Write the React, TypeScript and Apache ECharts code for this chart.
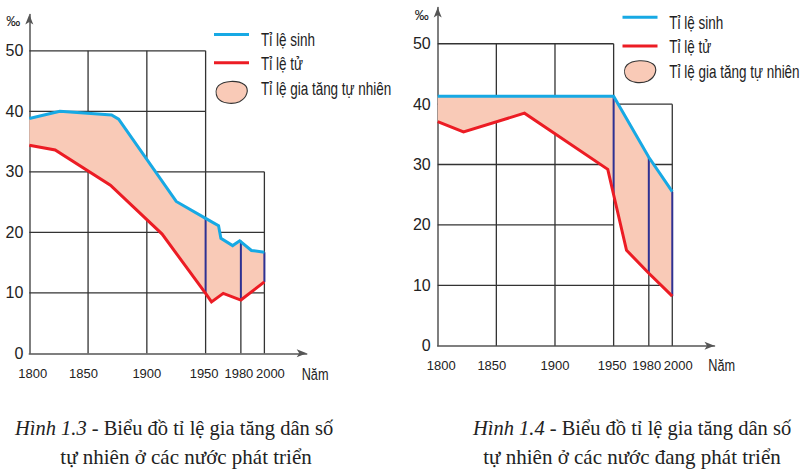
import React, { useEffect, useRef } from "react";
import * as echarts from "echarts";

// ---------- data ----------
// Hình 1.3 – developed countries
const devBirth: number[][] = [
  [1800, 38.8], [1826, 40.0], [1870, 39.4], [1876, 38.7], [1925, 25.1],
  [1950, 22.3], [1961, 21.1], [1963, 19.0], [1973, 17.8], [1979, 18.6],
  [1989, 17.0], [2000, 16.7],
];
const devDeath: number[][] = [
  [1800, 34.4], [1822, 33.6], [1869, 27.8], [1913, 19.7], [1950, 9.9],
  [1955, 8.5], [1965, 9.9], [1980, 8.8], [2000, 11.8],
];
// dividers: [year, lower, upper]
const devDividers: number[][] = [[1950, 9.9, 22.3], [1980, 8.8, 18.6], [2000, 11.8, 16.7]];
// grid segments [x1, y1, x2, y2]
const devGrid: number[][] = [
  [1800, 50, 1950, 50], [1800, 40, 1950, 40], [1800, 30, 2000, 30],
  [1800, 20, 2000, 20], [1800, 10, 2000, 10],
  [1850, 0, 1850, 50], [1900, 0, 1900, 50], [1950, 0, 1950, 50],
  [1980, 0, 1980, 18.6], [2000, 0, 2000, 30],
];

// Hình 1.4 – developing countries
const dvgBirth: number[][] = [[1800, 41.3], [1950, 41.3], [1980, 31.2], [2000, 25.5]];
const dvgDeath: number[][] = [
  [1800, 37.1], [1822, 35.4], [1874, 38.5], [1945, 29.2], [1950, 25.0],
  [1961, 15.8], [1980, 12.0], [2000, 8.2],
];
const dvgDividers: number[][] = [[1950, 25.0, 41.3], [1980, 12.0, 31.2], [2000, 8.2, 25.5]];
const dvgGrid: number[][] = [
  [1800, 50, 1950, 50], [1800, 40, 2000, 40], [1800, 30, 2000, 30],
  [1800, 20, 1950, 20], [1800, 10, 2000, 10],
  [1850, 0, 1850, 50], [1900, 0, 1900, 50], [1950, 0, 1950, 50],
  [1980, 0, 1980, 31.2], [2000, 0, 2000, 40],
];

const xTicks = [1800, 1850, 1900, 1950, 1980, 2000];
const yTicks = [0, 10, 20, 30, 40, 50];
const legendNames = ["Tỉ lệ sinh", "Tỉ lệ tử", "Tỉ lệ gia tăng tự nhiên"];
const captions = [
  ["{i|Hình 1.3} - Biểu đồ tỉ lệ gia tăng dân số", "tự nhiên ở các nước phát triển"],
  ["{i|Hình 1.4} - Biểu đồ tỉ lệ gia tăng dân số", "tự nhiên ở các nước đang phát triển"],
];

// ---------- styles ----------
const SANS = "'Liberation Sans', Arial, sans-serif";
const SERIF = "'Liberation Serif', 'Times New Roman', serif";
const BLUE = "#17a9e4";
const RED = "#ec1c24";
const FILL = "#f9cab7";
const NAVY = "#2e3192";
const GRIDC = "#333333";
const NARROW_SCALE = 0.77;
// horizontal nudges (px) of the year labels, as hand-placed in the source figure
const LABEL_NUDGE: Record<string, number> = { "1800": 3.5, "1850": -4.5, "1900": 0, "1950": -1.5, "1980": -2, "2000": 6 };

const BLOB_D = "M3,5 C8,0 22,-1 29,4 C34,8 32,17 24,21 C17,24 6,23 2,17 C0,13 0,8 3,5 Z";
try {
  echarts.graphic.registerShape("blob", echarts.graphic.extendPath(BLOB_D, {}) as any);
} catch (e) {
  /* ignore */
}

function gridSeries(idx: number, segs: number[][]) {
  return {
    type: "custom",
    xAxisIndex: idx,
    yAxisIndex: idx,
    silent: true,
    z: 1,
    data: segs,
    encode: { x: [0, 2], y: [1, 3] },
    renderItem: (_p: any, api: any) => {
      const a = api.coord([api.value(0), api.value(1)]);
      const b = api.coord([api.value(2), api.value(3)]);
      return {
        type: "line",
        shape: { x1: a[0], y1: a[1], x2: b[0], y2: b[1] },
        style: { stroke: GRIDC, lineWidth: 1.3 },
      };
    },
  };
}

function fillSeries(idx: number, birth: number[][], death: number[][]) {
  const poly = birth.concat(death.slice().reverse());
  return {
    type: "custom",
    name: legendNames[2],
    xAxisIndex: idx,
    yAxisIndex: idx,
    silent: true,
    z: 2,
    data: poly,
    renderItem: (p: any, api: any) => {
      if (p.dataIndex !== 0) return null;
      const pts = poly.map((d) => api.coord(d));
      return { type: "polygon", shape: { points: pts }, style: { fill: FILL } };
    },
  };
}

function dividerSeries(idx: number, divs: number[][]) {
  return {
    type: "custom",
    xAxisIndex: idx,
    yAxisIndex: idx,
    silent: true,
    z: 3,
    data: divs,
    encode: { x: 0, y: [1, 2] },
    renderItem: (_p: any, api: any) => {
      const a = api.coord([api.value(0), api.value(1)]);
      const b = api.coord([api.value(0), api.value(2)]);
      return {
        type: "line",
        shape: { x1: a[0], y1: a[1], x2: b[0], y2: b[1] },
        style: { stroke: NAVY, lineWidth: 2 },
      };
    },
  };
}

function lineSeries(idx: number, name: string, data: number[][], color: string) {
  return {
    type: "line",
    name,
    xAxisIndex: idx,
    yAxisIndex: idx,
    data,
    showSymbol: false,
    symbol: "none",
    z: 4,
    lineStyle: { color, width: 3, join: "miter" },
    itemStyle: { color },
  };
}

function narrowText(text: string, x: number, y: number, size: number) {
  return {
    type: "text",
    x,
    y,
    scaleX: NARROW_SCALE,
    style: { text, fill: "#222", font: `${size}px ${SANS}`, verticalAlign: "middle", align: "left" },
  };
}

function legendGraphics(lx: number, lineY1: number, lineY2: number, blobY: number, tx: number, ty: number[]) {
  return [
    { type: "line", shape: { x1: lx, y1: lineY1, x2: lx + 35, y2: lineY1 }, style: { stroke: BLUE, lineWidth: 3 } },
    narrowText(legendNames[0], tx, ty[0], 17.5),
    { type: "line", shape: { x1: lx, y1: lineY2, x2: lx + 35, y2: lineY2 }, style: { stroke: RED, lineWidth: 3 } },
    narrowText(legendNames[1], tx, ty[1], 17.5),
    {
      type: "blob",
      x: lx + 1.5,
      y: blobY,
      style: { fill: FILL, stroke: "#333", lineWidth: 1.1 },
    },
    narrowText(legendNames[2], tx, ty[2], 17.5),
  ];
}

function captionGraphics(cx1: number, cx2: number, lines: string[]) {
  const rich = { i: { fontStyle: "italic", fontFamily: SERIF, fontSize: 20.5, fill: "#222" } };
  return [
    {
      type: "text",
      x: cx1,
      y: 428,
      style: { text: lines[0], fill: "#222", font: `20.5px ${SERIF}`, verticalAlign: "middle", align: "center", rich },
    },
    {
      type: "text",
      x: cx2,
      y: 457,
      style: { text: lines[1], fill: "#222", font: `21px ${SERIF}`, verticalAlign: "middle", align: "center" },
    },
  ];
}

const xRich: Record<string, any> = {};
xTicks.forEach((t) => {
  const s = LABEL_NUDGE[String(t)] || 0;
  xRich["y" + t] = {
    fontFamily: SANS,
    fontSize: 13,
    color: "#222",
    padding: s >= 0 ? [0, 0, 0, 2 * s] : [0, -2 * s, 0, 0],
  };
});

function axisPair(gridIndex: number, xMargin: number, yMargin: number) {
  const x = {
    type: "value",
    gridIndex,
    min: 1800,
    max: 2036,
    axisLine: { show: true, lineStyle: { color: "#555", width: 1.5 }, symbol: ["none", "arrow"], symbolSize: [6, 10] },
    axisTick: { show: false },
    splitLine: { show: false },
    axisLabel: {
      customValues: xTicks,
      formatter: (v: number) => `{y${v}|${v}}`,
      rich: xRich,
      color: "#222",
      fontFamily: SANS,
      fontSize: 13,
      margin: xMargin,
      showMinLabel: true,
      showMaxLabel: true,
      hideOverlap: false,
    },
  };
  const y = {
    type: "value",
    gridIndex,
    min: 0,
    max: 56,
    axisLine: { show: true, lineStyle: { color: "#555", width: 1.5 }, symbol: ["none", "arrow"], symbolSize: [6, 10] },
    axisTick: { show: false },
    splitLine: { show: false },
    axisLabel: {
      customValues: yTicks,
      formatter: (v: number) => String(v),
      color: "#222",
      fontFamily: SANS,
      fontSize: 16,
      margin: yMargin,
      showMinLabel: true,
      showMaxLabel: true,
    },
  };
  return { x, y };
}

export default function App() {
  const ref = useRef<HTMLDivElement>(null);
  useEffect(() => {
    if (!ref.current) return;
    const chart = echarts.init(ref.current, undefined, { renderer: "svg" });
    const a0 = axisPair(0, 14, 6);
    const a1 = axisPair(1, 13, 7);
    chart.setOption({
      animation: false,
      backgroundColor: "#ffffff",
      grid: [
        { left: 29.3, top: 14.5, width: 277.4, height: 338.8 },
        { left: 437.7, top: 7.5, width: 276.8, height: 338.2 },
      ],
      xAxis: [a0.x, a1.x],
      yAxis: [a0.y, a1.y],
      series: [
        gridSeries(0, devGrid),
        fillSeries(0, devBirth, devDeath),
        dividerSeries(0, devDividers),
        lineSeries(0, legendNames[0], devBirth, BLUE),
        lineSeries(0, legendNames[1], devDeath, RED),
        gridSeries(1, dvgGrid),
        fillSeries(1, dvgBirth, dvgDeath),
        dividerSeries(1, dvgDividers),
        lineSeries(1, legendNames[0], dvgBirth, BLUE),
        lineSeries(1, legendNames[1], dvgDeath, RED),
      ],
      graphic: [
        ...legendGraphics(214, 34.5, 62.7, 80.7, 261, [39.7, 64, 88.5]),
        ...legendGraphics(622.5, 17.3, 46, 60, 669.3, [23.3, 46.7, 71.7]),
        { type: "text", x: 13.3, y: 21, style: { text: "‰", font: `14px ${SANS}`, fill: "#222", align: "center", verticalAlign: "middle" } },
        { type: "text", x: 421.7, y: 15, style: { text: "‰", font: `14px ${SANS}`, fill: "#222", align: "center", verticalAlign: "middle" } },
        narrowText("Năm", 301.7, 374, 16.5),
        narrowText("Năm", 708.3, 365, 16.5),
        ...captionGraphics(174, 186, captions[0]),
        ...captionGraphics(632, 632, captions[1]),
      ],
    });
    return () => chart.dispose();
  }, []);
  return <div ref={ref} style={{ position: "fixed", left: 0, top: 0, width: 805, height: 471, background: "#fff" }} />;
}
